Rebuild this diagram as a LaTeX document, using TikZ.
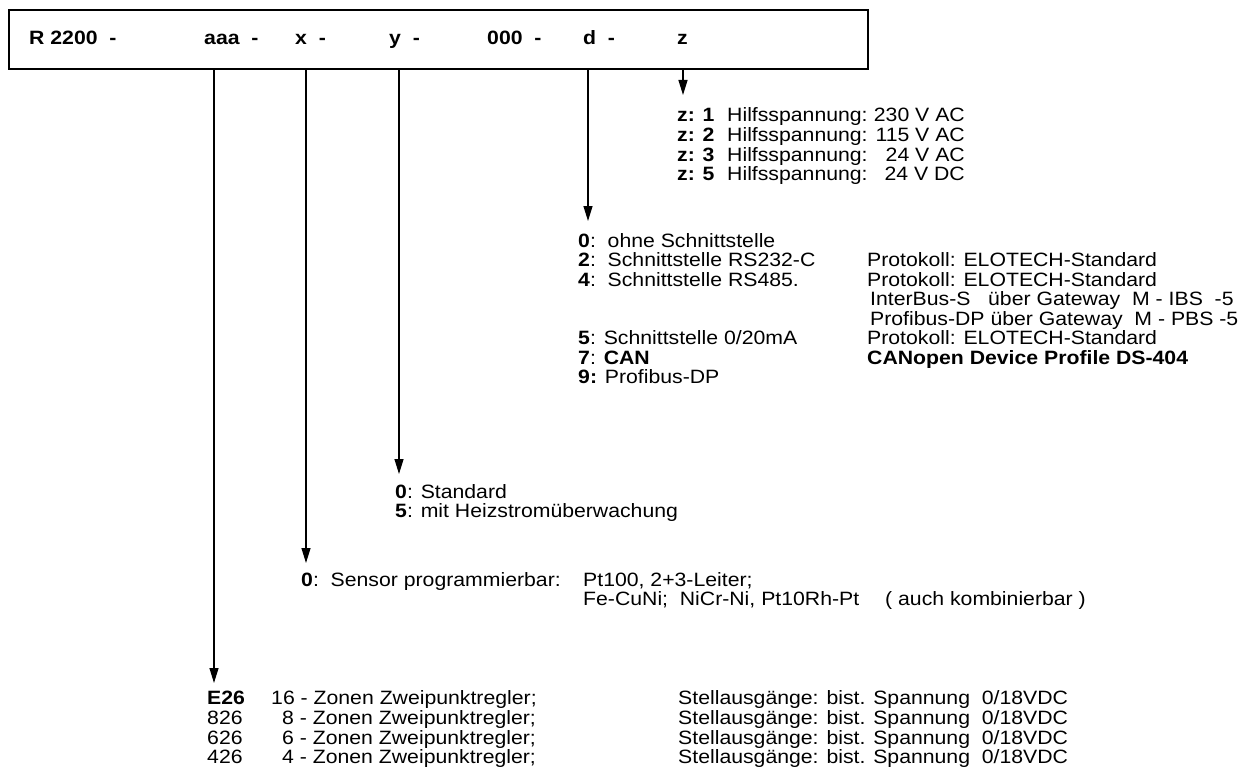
\documentclass[tikz,border=0pt]{standalone}
\usepackage{fontspec}
\setmainfont{Liberation Sans}[FakeStretch=1.1]
\usetikzlibrary{arrows.meta}
\begin{document}
\begin{tikzpicture}[x=1pt,y=-1pt,
  txt/.style={anchor=base west,inner sep=0pt,font=\fontsize{19.3}{22}\selectfont},
  rtxt/.style={anchor=base east,inner sep=0pt,font=\fontsize{19.3}{22}\selectfont},
  conn/.style={line width=1.2pt,-{Triangle[length=15pt,width=9pt]}},
  frame/.style={draw,line width=1.8pt,inner sep=0pt,anchor=north west,minimum width=859pt,minimum height=59pt}
]
\useasboundingbox (0,0) rectangle (1247,781);
% header box
\node[frame] (box) at (8,9) {};
\node[txt] (hR) at (29,45) {\textbf{R 2200\ \ -}};
\node[txt] (ha) at (204,45) {\textbf{aaa\ \ -}};
\node[txt] (hx) at (295,45) {\textbf{x\ \ -}};
\node[txt] (hy) at (389,45) {\textbf{y\ \ -}};
\node[txt] (h0) at (487,45) {\textbf{000\ \ -}};
\node[txt] (hd) at (583,45) {\textbf{d\ \ -}};
\node[txt] (hz) at (677,45) {\textbf{z}};
% arrow tips
\coordinate (tipA) at (214,683);
\coordinate (tipX) at (306,563);
\coordinate (tipY) at (399,474);
\coordinate (tipD) at (588,221);
\coordinate (tipZ) at (683,95);
\draw[conn] (box.south -| tipA) -- (tipA);
\draw[conn] (box.south -| tipX) -- (tipX);
\draw[conn] (box.south -| tipY) -- (tipY);
\draw[conn] (box.south -| tipD) -- (tipD);
\draw[conn] (box.south -| tipZ) -- (tipZ);
% z block
\node[txt] (z1) at (677,122) {\textbf{z: 1}};
\node[txt] (z2) at (677,141.5) {\textbf{z: 2}};
\node[txt] (z3) at (677,161) {\textbf{z: 3}};
\node[txt] (z5) at (677,180.5) {\textbf{z: 5}};
\node[txt] (z1t) at (727,122) {Hilfsspannung:};
\node[txt] (z2t) at (727,141.5) {Hilfsspannung:};
\node[txt] (z3t) at (727,161) {Hilfsspannung:};
\node[txt] (z5t) at (727,180.5) {Hilfsspannung:};
\node[rtxt] (z1v) at (965,122) {230 V AC};
\node[rtxt] (z2v) at (965,141.5) {115 V AC};
\node[rtxt] (z3v) at (965,161) {24 V AC};
\node[rtxt] (z5v) at (965,180.5) {24 V DC};
% d block
\node[txt] (d0) at (578,247) {\textbf{0}:\ \ ohne Schnittstelle};
\node[txt] (d2) at (578,266.5) {\textbf{2}:\ \ Schnittstelle RS232-C};
\node[txt] (d4) at (578,286) {\textbf{4}:\ \ Schnittstelle RS485.};
\node[txt] (d5) at (578,344.5) {\textbf{5}: Schnittstelle 0/20mA};
\node[txt] (d7) at (578,364) {\textbf{7}: \textbf{CAN}};
\node[txt] (d9) at (578,383.5) {\textbf{9:} Profibus-DP};
\node[txt] (p2) at (867,266.5) {Protokoll: ELOTECH-Standard};
\node[txt] (p4) at (867,286) {Protokoll: ELOTECH-Standard};
\node[txt] (pI) at (870,305.5) {InterBus-S\ \ \ über Gateway\ \ M - IBS\ \ -5};
\node[txt] (pP) at (870,325) {Profibus-DP über Gateway\ \ M - PBS -5};
\node[txt] (p5) at (867,344.5) {Protokoll: ELOTECH-Standard};
\node[txt] (p7) at (867,364) {\textbf{CANopen Device Profile DS-404}};
% y block
\node[txt] (y0) at (395,498) {\textbf{0}: Standard};
\node[txt] (y5) at (395,517.5) {\textbf{5}: mit Heizstromüberwachung};
% x block
\node[txt] (x0) at (301,586) {\textbf{0}:\ \ Sensor programmierbar:};
\node[txt] (x0a) at (583,586) {Pt100, 2+3-Leiter;};
\node[txt] (x0b) at (583,605.5) {Fe-CuNi;\ \ NiCr-Ni, Pt10Rh-Pt};
\node[txt] (x0c) at (885,605.5) {( auch kombinierbar )};
% aaa block
\node[txt] (a1) at (207,704) {\textbf{E26}};
\node[txt] (a2) at (207,724) {826};
\node[txt] (a3) at (207,744) {626};
\node[txt] (a4) at (207,763.5) {426};
\node[txt] (a1t) at (271,704) {16 - Zonen Zweipunktregler;};
\node[txt] (a2t) at (282,724) {8 - Zonen Zweipunktregler;};
\node[txt] (a3t) at (282,744) {6 - Zonen Zweipunktregler;};
\node[txt] (a4t) at (282,763.5) {4 - Zonen Zweipunktregler;};
\node[txt] (s1) at (678,704) {Stellausgänge: bist. Spannung\ \ 0/18VDC};
\node[txt] (s2) at (678,724) {Stellausgänge: bist. Spannung\ \ 0/18VDC};
\node[txt] (s3) at (678,744) {Stellausgänge: bist. Spannung\ \ 0/18VDC};
\node[txt] (s4) at (678,763.5) {Stellausgänge: bist. Spannung\ \ 0/18VDC};
\end{tikzpicture}
\end{document}
